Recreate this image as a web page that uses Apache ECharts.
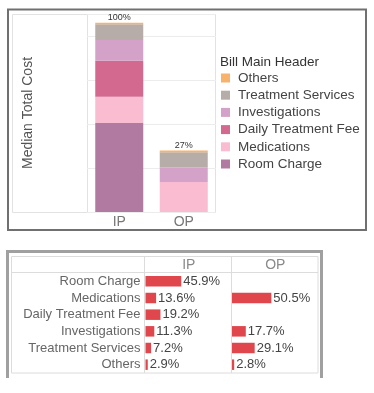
<!DOCTYPE html>
<html>
<head>
<meta charset="utf-8">
<script src="https://cdn.jsdelivr.net/npm/echarts@6/dist/echarts.min.js"></script>
<style>
html,body{margin:0;padding:0;background:#fff;}
#chart{width:374px;height:393px;}
</style>
</head>
<body>
<div id="chart"></div>
<script>
// ---- Data (top stacked chart, cost units) ----
const categories = ['IP', 'OP'];
const roomCharge = [2020, null];
const medications = [600, 680];
const dailyTreatmentFee = [820, null];
const investigations = [470, 330];
const treatmentServices = [355, 350];
const others = [35, 35];
const totalLabels = ['100%', '27%'];
const legendOrder = ['Others', 'Treatment Services', 'Investigations', 'Daily Treatment Fee', 'Medications', 'Room Charge'];

// ---- Data (bottom table, share %) ----
const tableColumns = ['IP', 'OP'];
const tableRows = ['Room Charge', 'Medications', 'Daily Treatment Fee', 'Investigations', 'Treatment Services', 'Others'];
const ipShare = [45.9, 13.6, 19.2, 11.3, 7.2, 2.9];
const opShare = [null, 50.5, null, 17.7, 29.1, 2.8];

const FONT = "'Liberation Sans', Arial, sans-serif";
const colors = {
  'Room Charge': '#b07aa1',
  'Medications': '#f9bcd1',
  'Daily Treatment Fee': '#d4698f',
  'Investigations': '#d4a2c8',
  'Treatment Services': '#b6aca8',
  'Others': '#f7b36b'
};
const stackSeries = [
  ['Room Charge', roomCharge],
  ['Medications', medications],
  ['Daily Treatment Fee', dailyTreatmentFee],
  ['Investigations', investigations],
  ['Treatment Services', treatmentServices],
  ['Others', others]
];

const chart = echarts.init(document.getElementById('chart'), null, {renderer: 'canvas'});

const series = stackSeries.map(([name, data], i) => ({
  name: name,
  type: 'bar',
  stack: 'total',
  xAxisIndex: 0,
  yAxisIndex: 0,
  barWidth: 48,
  data: data,
  itemStyle: {color: colors[name]},
  label: i === stackSeries.length - 1 ? {
    show: true, position: 'top', distance: 1,
    fontSize: 9, color: '#333', fontFamily: FONT,
    formatter: p => totalLabels[p.dataIndex]
  } : {show: false},
  emphasis: {disabled: true}
}));

[ipShare, opShare].forEach((arr, k) => {
  series.push({
    name: tableColumns[k] + ' share',
    type: 'bar',
    xAxisIndex: 1 + k,
    yAxisIndex: 1 + k,
    barWidth: 10.5,
    data: arr,
    itemStyle: {color: '#e0474c'},
    label: {
      show: true, position: 'right', distance: 2,
      fontSize: 13, color: '#444', fontFamily: FONT,
      formatter: p => p.value.toFixed(1) + '%'
    },
    emphasis: {disabled: true}
  });
});

const tableXAxis = k => ({
  type: 'value', gridIndex: 1 + k, min: 0, max: 111, position: 'top',
  name: tableColumns[k], nameLocation: 'middle', nameGap: 1,
  nameTextStyle: {color: '#8a8a8a', fontSize: 14, fontFamily: FONT},
  axisLabel: {show: false}, axisLine: {show: false}, axisTick: {show: false}, splitLine: {show: false}
});
const tableYAxis = k => ({
  type: 'category', gridIndex: 1 + k, data: tableRows, inverse: true,
  axisLabel: {show: k === 0, interval: 0, fontSize: 13, color: '#666', margin: 5, fontFamily: FONT},
  axisLine: {show: false}, axisTick: {show: false}, splitLine: {show: false}
});

const option = {
  animation: false,
  textStyle: {fontFamily: FONT},
  grid: [
    {left: 87, top: 14, width: 129, height: 198},
    {left: 145.5, top: 273, width: 86.5, height: 100},
    {left: 232, top: 273, width: 86.5, height: 100}
  ],
  xAxis: [
    {
      type: 'category', gridIndex: 0, data: categories,
      axisLabel: {fontSize: 14, color: '#777', margin: 3, fontFamily: FONT},
      axisLine: {show: false}, axisTick: {show: false}
    },
    tableXAxis(0), tableXAxis(1)
  ],
  yAxis: [
    {
      type: 'value', gridIndex: 0, min: 0, max: 4500, interval: 1000,
      name: 'Median Total Cost', nameLocation: 'middle', nameGap: 52, nameRotate: 90,
      nameTextStyle: {fontSize: 14, color: '#555', fontFamily: FONT},
      axisLabel: {show: false}, axisLine: {show: false}, axisTick: {show: false},
      splitLine: {lineStyle: {color: '#ececec', width: 1}}
    },
    tableYAxis(0), tableYAxis(1)
  ],
  legend: {
    data: legendOrder,
    orient: 'vertical',
    left: 221, top: 69.5,
    padding: 0,
    itemWidth: 9, itemHeight: 9, itemGap: 0.2,
    icon: 'rect',
    selectedMode: false,
    textStyle: {fontSize: 13.5, color: '#444', fontFamily: FONT, lineHeight: 17, padding: [0, 0, 0, 3]}
  },
  graphic: [
    // top outer frame
    {type: 'rect', shape: {x: 8, y: 9.5, width: 358, height: 220.5}, style: {fill: 'none', stroke: '#707070', lineWidth: 2}, z: 0},
    // top inner frame
    {type: 'rect', shape: {x: 12.5, y: 14.5, width: 203, height: 198}, style: {fill: 'none', stroke: '#e2e2e2', lineWidth: 1}, z: 0},
    {type: 'line', shape: {x1: 87.5, y1: 14.5, x2: 87.5, y2: 212.5}, style: {stroke: '#e2e2e2', lineWidth: 1}, z: 0},
    {type: 'text', left: 220, top: 55, style: {text: 'Bill Main Header', fontSize: 13.5, fill: '#333', fontFamily: FONT}},
    // bottom outer frame (open at bottom)
    {type: 'polyline', shape: {points: [[7.5, 378], [7.5, 251.5], [321.5, 251.5], [321.5, 378]]}, style: {fill: 'none', stroke: '#a0a0a0', lineWidth: 3}, z: 0},
    // table lines
    {type: 'rect', shape: {x: 11.5, y: 256.5, width: 306.5, height: 116.5}, style: {fill: 'none', stroke: '#dcdcdc', lineWidth: 1}, z: 0},
    {type: 'line', shape: {x1: 11.5, y1: 272.5, x2: 318, y2: 272.5}, style: {stroke: '#dcdcdc', lineWidth: 1}, z: 0},
    {type: 'line', shape: {x1: 144.5, y1: 256.5, x2: 144.5, y2: 373}, style: {stroke: '#dcdcdc', lineWidth: 1}, z: 0},
    {type: 'line', shape: {x1: 231.5, y1: 256.5, x2: 231.5, y2: 373}, style: {stroke: '#dcdcdc', lineWidth: 1}, z: 0}
  ],
  series: series
};
chart.setOption(option);
</script>
</body>
</html>
